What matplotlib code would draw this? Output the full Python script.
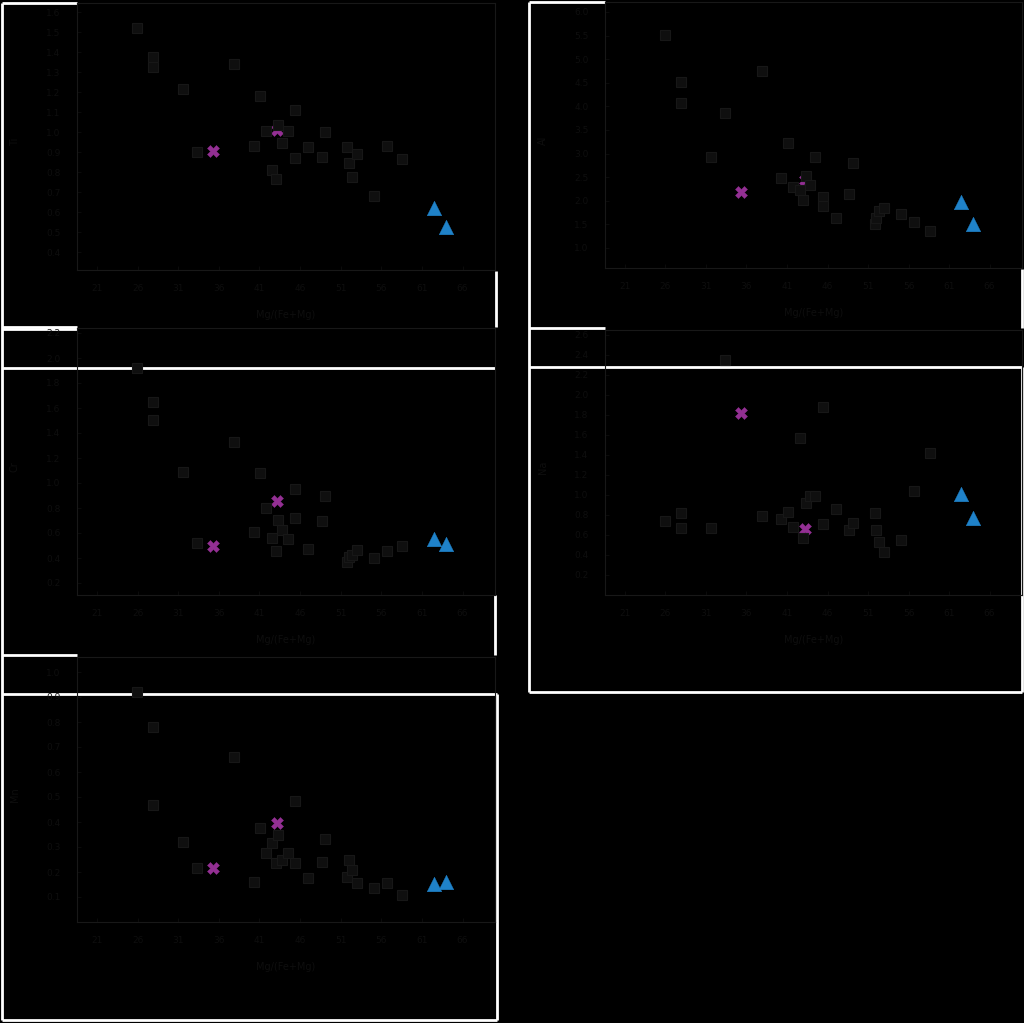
import matplotlib
matplotlib.use("Agg")
import matplotlib.pyplot as plt
from matplotlib.lines import Line2D
from matplotlib.ticker import FormatStrFormatter
import numpy as np

# ---------------- data ----------------
x_labels = ["Mg/(Fe+Mg)"] * 5
y_labels = ["Ti", "Al", "Cr", "Na", "Mn"]
x_ticks = [21, 26, 31, 36, 41, 46, 51, 56, 61, 66]

sq_x = [25.9, 27.9, 27.9, 31.6, 33.3, 37.9, 40.3, 41.1, 41.8, 42.6, 43.0, 43.3, 43.8,
        44.5, 45.4, 45.4, 47.0, 48.7, 49.1, 51.8, 52.0, 52.4, 53.0, 55.1, 56.7, 58.6]
x_cross = [35.3, 43.2]
x_tri = [62.5, 64.0]

p1_sq = [1.52, 1.375, 1.325, 1.215, 0.90, 1.34, 0.93, 1.18, 1.005, 0.81, 0.765, 1.035, 0.945,
         1.005, 1.11, 0.87, 0.925, 0.875, 1.0, 0.925, 0.845, 0.775, 0.89, 0.68, 0.93, 0.865]
p1_cross = [0.905, 1.01]
p1_tri = [0.62, 0.525]

p2_sq = [5.51, 4.52, 4.07, 2.93, 3.86, 4.75, 2.48, 3.22, 2.29, 2.23, 2.02, 2.52, 2.33,
         2.93, 2.08, 1.89, 1.64, 2.14, 2.80, 1.51, 1.64, 1.78, 1.85, 1.72, 1.55, 1.36]
p2_cross = [2.19, 2.44]
p2_tri = [1.97, 1.51]

p3_sq = [1.92, 1.648, 1.504, 1.088, 0.52, 1.328, 0.608, 1.08, 0.80, 0.56, 0.456, 0.704, 0.624,
         0.552, 0.72, 0.952, 0.472, 0.696, 0.896, 0.368, 0.408, 0.424, 0.464, 0.40, 0.456, 0.496]
p3_cross = [0.496, 0.856]
p3_tri = [0.552, 0.512]

p4_sq = [0.74, 0.82, 0.67, 0.67, 2.35, 0.79, 0.76, 0.83, 0.68, 1.57, 0.57, 0.92, 0.99,
         0.99, 1.88, 0.71, 0.86, 0.65, 0.72, 0.82, 0.65, 0.53, 0.43, 0.55, 1.04, 1.42]
p4_cross = [1.82, 0.66]
p4_tri = [1.01, 0.77]

p5_sq = [0.92, 0.78, 0.468, 0.32, 0.216, 0.66, 0.16, 0.376, 0.276, 0.316, 0.236, 0.348, 0.248,
         0.276, 0.484, 0.236, 0.176, 0.24, 0.332, 0.18, 0.248, 0.208, 0.156, 0.136, 0.156, 0.108]
p5_cross = [0.216, 0.396]
p5_tri = [0.152, 0.16]

panels = [
    dict(sq=p1_sq, cr=p1_cross, tr=p1_tri, ylim=(0.31, 1.645), yt=np.arange(0.4, 1.61, 0.1), fmt="%.1f"),
    dict(sq=p2_sq, cr=p2_cross, tr=p2_tri, ylim=(0.576, 6.21), yt=np.arange(1.0, 6.01, 0.5), fmt="%.1f"),
    dict(sq=p3_sq, cr=p3_cross, tr=p3_tri, ylim=(0.104, 2.24), yt=np.arange(0.2, 2.21, 0.2), fmt="%.1f"),
    dict(sq=p4_sq, cr=p4_cross, tr=p4_tri, ylim=(0.0, 2.65), yt=np.arange(0.2, 2.61, 0.2), fmt="%.1f"),
    dict(sq=p5_sq, cr=p5_cross, tr=p5_tri, ylim=(0.0, 1.06), yt=np.arange(0.1, 1.01, 0.1), fmt="%.1f"),
]

# ---------------- layout ----------------
W, H = 1024, 1023
fig = plt.figure(figsize=(W / 100, H / 100), dpi=100, facecolor="black")

def fx(px):
    return px / W

def fy(py):
    return 1 - py / H

# axes boxes in pixels: (x0, ytop, x1, ybottom)
boxes = [(77, 3, 495, 270), (605, 2, 1022, 268), (77, 328, 495, 595),
         (605, 330, 1022, 595), (77, 657, 495, 922)]
ylab_x = [15, 543, 15, 543, 15]

TXT = "#0e0e0e"
SP = "#181818"

# white frame segments (pixels), drawn beneath the plot contents
segs = [
    ((2, 3), (77, 3)), ((2, 3), (2, 1020)), ((2, 327), (77, 327)), ((2, 329), (77, 329)),
    ((496, 271), (496, 327)),
    ((2, 368), (495, 368)), ((2, 655), (77, 655)), ((495, 595), (495, 655)),
    ((2, 694), (497, 694)), ((497, 694), (497, 1020)), ((2, 1020), (497, 1020)),
    ((529, 2), (605, 2)), ((529, 2), (529, 692)), ((529, 328), (605, 328)),
    ((1022, 269), (1022, 328)),
    ((529, 367), (1022, 367)), ((1022, 367), (1022, 692)), ((529, 692), (1022, 692)),
]
for (a, b) in segs:
    fig.add_artist(Line2D([fx(a[0]), fx(b[0])], [fy(a[1]), fy(b[1])], color="white",
                          lw=2.0, zorder=-1, solid_capstyle="butt"))

for i, (box, pan) in enumerate(zip(boxes, panels)):
    x0, yt_, x1, yb = box
    ax = fig.add_axes([fx(x0), fy(yb), (x1 - x0) / W, (yb - yt_) / H])
    ax.set_facecolor("none")
    ax.scatter(x_cross, pan["cr"], marker="X", s=75, c="#932f93", edgecolors="#932f93",
               linewidths=0.3, zorder=3)
    ax.scatter(sq_x, pan["sq"], marker="s", s=55, c="#0f0f0f", edgecolors="#171717",
               linewidths=0.8, zorder=4)
    ax.scatter(x_tri, pan["tr"], marker="^", s=110, c="#1f82c9", edgecolors="#1f82c9",
               linewidths=0.3, zorder=5)
    ax.set_xlim(18.54, 70.0)
    ax.set_ylim(*pan["ylim"])
    ax.set_xticks(x_ticks)
    ax.set_yticks(pan["yt"])
    ax.yaxis.set_major_formatter(FormatStrFormatter(pan["fmt"]))
    ax.tick_params(colors=TXT, labelcolor=TXT, labelsize=6.5, direction="in", length=3,
                   width=0.6, pad=10)
    ax.tick_params(axis="y", pad=12)
    for s in ax.spines.values():
        s.set_color(SP)
        s.set_linewidth(0.8)
    ax.set_xlabel(x_labels[i], color=TXT, fontsize=7, labelpad=12)
    fig.text(fx(ylab_x[i]), fy((yt_ + yb) / 2 + 5), y_labels[i], color=TXT, fontsize=7,
             rotation=90, ha="center", va="center")

fig.savefig("out.png", dpi=100, facecolor="black")
